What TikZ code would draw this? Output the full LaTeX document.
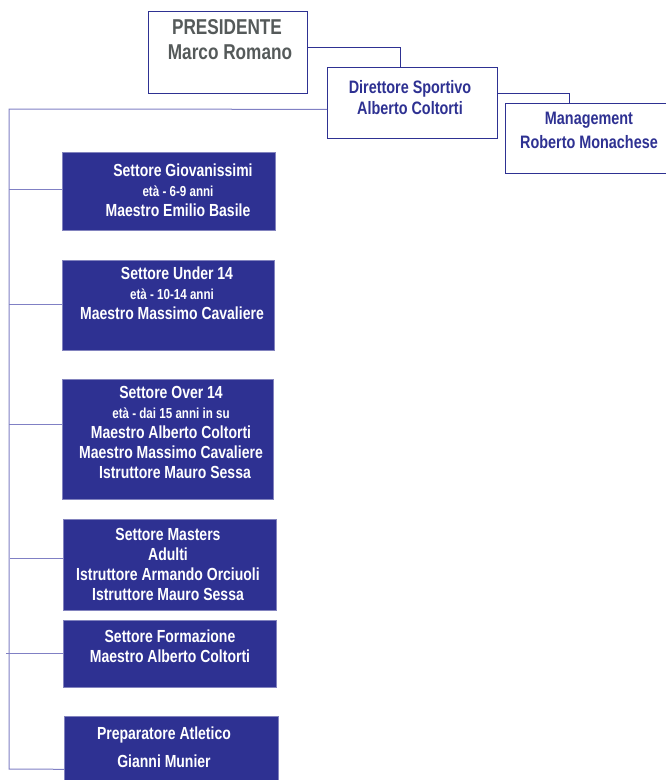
\documentclass[tikz,border=0pt]{standalone}
\usepackage{fontspec}
\setmainfont[FakeStretch=0.8]{Liberation Sans}
\definecolor{navy}{RGB}{46,49,146}
\definecolor{linec}{RGB}{128,128,196}
\definecolor{grayt}{RGB}{85,90,90}
\begin{document}
\begin{tikzpicture}[x=1pt,y=-1pt,
  wbox/.style={draw=navy, line width=0.7pt, fill=white, inner sep=0pt, anchor=north west},
  bbox/.style={draw=navy!60, line width=0.6pt, fill=navy, inner sep=0pt, anchor=north west},
  topline/.style={draw=navy, line width=0.7pt},
  conn/.style={draw=linec, line width=1pt},
  big/.style={font=\bfseries\fontsize{21.5}{25}\selectfont, text=grayt, align=center, inner sep=0pt},
  mid/.style={font=\bfseries\fontsize{18}{21}\selectfont, text=navy, align=center, inner sep=0pt},
  wtxt/.style={font=\bfseries\fontsize{17.5}{20}\selectfont, text=white, align=center, inner sep=0pt}]
\useasboundingbox (0,0) rectangle (666,780);
\newcommand{\sm}{\fontsize{14.5}{20}\selectfont}
% top boxes
\node[wbox, minimum width=159pt, minimum height=82pt] (pres) at (148,11) {};
\node[wbox, minimum width=170pt, minimum height=71pt] (dir) at (327,67) {};
\node[wbox, minimum width=162pt, minimum height=70pt] (mgmt) at (505,103) {};
\node[big] (prest) at (230,39.5) {\hspace*{-6pt}PRESIDENTE\\Marco Romano};
\node[mid] (dirt) at (410,97.5) {Direttore Sportivo\\Alberto Coltorti};
\node[mid, font=\bfseries\fontsize{18}{24}\selectfont] (mgmtt) at (589,130) {Management\\Roberto Monachese};
% blue boxes
\node[bbox, minimum width=213pt, minimum height=78pt] (g) at (62,152) {};
\node[bbox, minimum width=212pt, minimum height=90pt] (u) at (62,260) {};
\node[bbox, minimum width=211pt, minimum height=120pt] (o) at (62,379) {};
\node[bbox, minimum width=213pt, minimum height=91pt] (m) at (63,519) {};
\node[bbox, minimum width=213pt, minimum height=67pt] (f) at (63,620) {};
\node[bbox, minimum width=214pt, minimum height=74pt] (p) at (64,716) {};
\node[wtxt] (gt) at (178,190.5) {\hspace*{10pt}Settore Giovanissimi\\{\sm età - 6-9 anni}\\Maestro Emilio Basile};
\node[wtxt] (ut) at (172,293.5) {\hspace*{10pt}Settore Under 14\\{\sm età - 10-14 anni}\\Maestro Massimo Cavaliere};
\node[wtxt] (ot) at (171,432.5) {Settore Over 14\\{\sm età - dai 15 anni in su}\hspace*{28pt}\\Maestro Alberto Coltorti\\Maestro Massimo Cavaliere\\\hspace*{8pt}Istruttore Mauro Sessa};
\node[wtxt] (mt) at (168,564) {Settore Masters\\Adulti\\Istruttore Armando Orciuoli\\Istruttore Mauro Sessa};
\node[wtxt] (ft) at (170,646.5) {Settore Formazione\\Maestro Alberto Coltorti};
\node[wtxt, font=\bfseries\fontsize{17.5}{28}\selectfont] (pt) at (164,747) {Preparatore Atletico\\Gianni Munier};
% connectors
\draw[topline] ([yshift=5pt]pres.east) -| ([xshift=-12pt]dir.north);
\draw[topline] ([yshift=9.5pt]dir.east) -| ([xshift=-17.5pt]mgmt.north);
\coordinate (trunktop) at (9,109);
\coordinate (trunkbot) at (9,769);
\draw[conn] ([yshift=-6.5pt]dir.west) -- (trunktop) -- (trunkbot) -- ([yshift=-16pt]p.west);
\draw[conn] ([yshift=2pt]g.west) -- ++(-53,0);
\draw[conn] ([yshift=1pt]u.west) -- ++(-53,0);
\draw[conn] ([yshift=15pt]o.west) -- ++(-53,0);
\draw[conn] ([yshift=6.5pt]m.west) -- ++(-53,0);
\draw[conn] ([yshift=0.5pt]f.west) -- ++(-57,0);
\end{tikzpicture}
\end{document}
